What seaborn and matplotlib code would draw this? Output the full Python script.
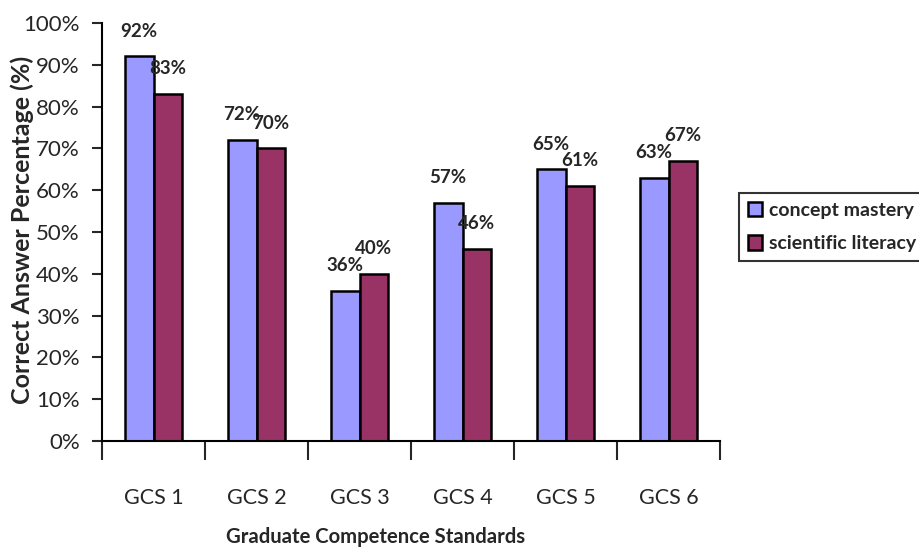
import numpy as np
import pandas as pd
import matplotlib
matplotlib.use('Agg')
import matplotlib.pyplot as plt
import seaborn as sns
from matplotlib import ticker

# ── Data ──────────────────────────────────────────────────────────────────────

standards = ['GCS 1', 'GCS 2', 'GCS 3', 'GCS 4', 'GCS 5', 'GCS 6']
concept_mastery = [92, 72, 36, 57, 65, 63]
scientific_literacy = [83, 70, 40, 46, 61, 67]
series_names = ['concept mastery', 'scientific literacy']

df = pd.DataFrame({
    'standard': standards * 2,
    'value': concept_mastery + scientific_literacy,
    'series': [series_names[0]] * len(standards) + [series_names[1]] * len(standards),
})

# ── Plot ──────────────────────────────────────────────────────────────────────

sns.set_style('white')
plt.rcParams['font.family'] = ['Lato', 'DejaVu Sans']

fig = plt.figure(figsize=(9.19, 5.5), dpi=100)
ax = fig.add_axes([102 / 919, 1 - 441 / 550, 618 / 919, 418 / 550])

sns.barplot(data=df, x='standard', y='value', hue='series',
            palette=['#9999FF', '#993366'], edgecolor='black', linewidth=1.8,
            width=0.56, gap=0, saturation=1, ax=ax, legend=True)

for cont in ax.containers:
    ax.bar_label(cont, labels=[f'{v:.0f}%' for v in cont.datavalues],
                 padding=12, fontsize=13.5, fontweight='bold')

ax.set_ylim(0, 100)
ax.set_xlim(-0.5, len(standards) - 0.5)
ax.yaxis.set_major_locator(ticker.MultipleLocator(10))
ax.yaxis.set_major_formatter(ticker.FuncFormatter(lambda v, p: f'{v:.0f}%'))
ax.tick_params(axis='y', which='major', left=True, length=7, width=1.5,
               labelsize=16, pad=9, direction='out')

ax.xaxis.set_minor_locator(ticker.FixedLocator(np.arange(-0.5, len(standards), 1.0)))
ax.tick_params(axis='x', which='major', bottom=False, labelsize=15.5, pad=30)
ax.tick_params(axis='x', which='minor', bottom=True, length=14, width=1.5,
               direction='out')

for side in ['top', 'right']:
    ax.spines[side].set_visible(False)
for side in ['left', 'bottom']:
    ax.spines[side].set_color('black')
    ax.spines[side].set_linewidth(1.5)

ax.set_xlabel('Graduate Competence Standards', fontsize=14.6, fontweight='bold')
ax.xaxis.set_label_coords((376 - 102) / 618, (441 - 527) / 418)
ax.set_ylabel('Correct Answer Percentage (%)', fontsize=18, fontweight='bold')
ax.yaxis.set_label_coords((34 - 102) / 618, 0.505)

leg = ax.legend(loc='center left', bbox_to_anchor=(739 / 919, 1 - 227 / 550),
                bbox_transform=fig.transFigure, frameon=True, fancybox=False,
                edgecolor='black', handlelength=0.75, handleheight=0.75,
                handletextpad=0.35, borderpad=0.45, borderaxespad=0,
                labelspacing=0.85, prop={'weight': 'bold', 'size': 14})
leg.get_frame().set_linewidth(1.5)

fig.savefig('out.png', dpi=100)
